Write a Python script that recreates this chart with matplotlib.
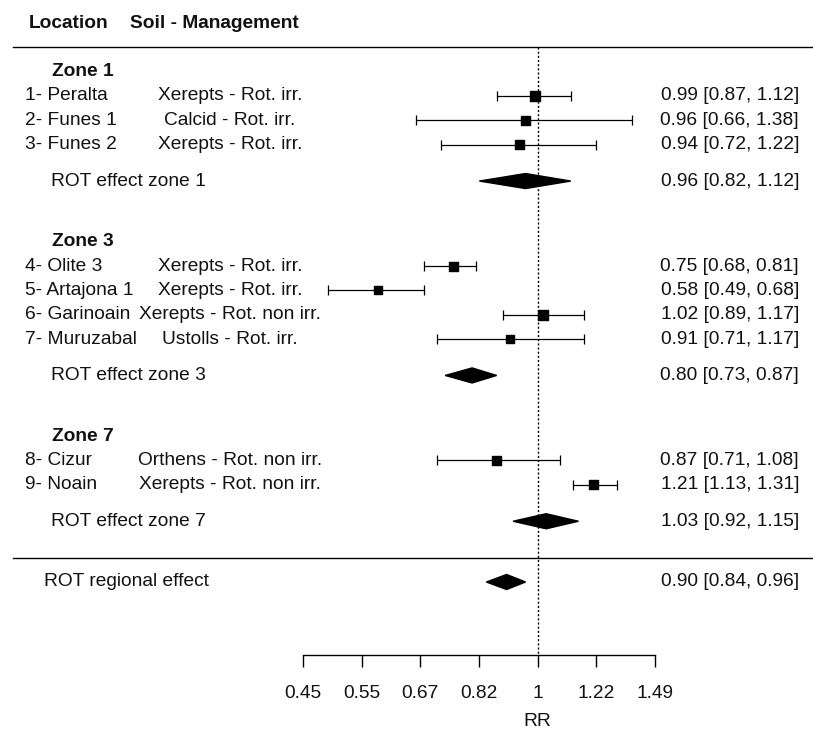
import numpy as np
import matplotlib.pyplot as plt
from matplotlib.patches import Polygon
from matplotlib.transforms import blended_transform_factory

plt.rcParams['font.family'] = ['Liberation Sans', 'DejaVu Sans']

# study data (RR with 95% CI)
locations = ["1- Peralta", "2- Funes 1", "3- Funes 2",
             "4- Olite 3", "5- Artajona 1", "6- Garinoain", "7- Muruzabal",
             "8- Cizur", "9- Noain"]
soils = ["Xerepts - Rot. irr.", "Calcid - Rot. irr.", "Xerepts - Rot. irr.",
         "Xerepts - Rot. irr.", "Xerepts - Rot. irr.", "Xerepts - Rot. non irr.",
         "Ustolls - Rot. irr.", "Orthens - Rot. non irr.", "Xerepts - Rot. non irr."]
rr = [0.99, 0.96, 0.94, 0.75, 0.58, 1.02, 0.91, 0.87, 1.21]
rr_lo = [0.87, 0.66, 0.72, 0.68, 0.49, 0.89, 0.71, 0.71, 1.13]
rr_hi = [1.12, 1.38, 1.22, 0.81, 0.68, 1.17, 1.17, 1.08, 1.31]
weights = [10, 9, 8.7, 9, 8, 10, 8.5, 9, 9]  # rough relative weights (box size)

zones = ["Zone 1", "Zone 3", "Zone 7"]
zone_n = [3, 4, 2]
zone_rr = [0.96, 0.80, 1.03]
zone_lo = [0.82, 0.73, 0.92]
zone_hi = [1.12, 0.87, 1.15]

overall_rr, overall_lo, overall_hi = 0.90, 0.84, 0.96

tick_log = [-0.8, -0.6, -0.4, -0.2, 0, 0.2, 0.4]

FS = 13.8
W, H = 813, 736

fig = plt.figure(figsize=(W / 100, H / 100), dpi=100)
ax = fig.add_axes([0, 0, 1, 1])
# x in log(RR), y in rows (row 0 = first study), pixel based limits
x0_px, x_scale = 537.5, 293.2
y0_px, y_scale = 96, 24.3
ax.set_xlim(-x0_px / x_scale, (W - x0_px) / x_scale)
ax.set_ylim((H - y0_px) / y_scale, -y0_px / y_scale)
tr = blended_transform_factory(ax.transAxes, ax.transData)

def fx(px):
    return px / W

# row layout
study_rows, zone_rows, summ_rows = [], [], []
r = 0.0
for n in zone_n:
    zone_rows.append(r - 1)
    study_rows += [r + j for j in range(n)]
    summ_rows.append(r + n - 1 + 1.5)
    r = r + n - 1 + 1.5 + 3.5
line_row = summ_rows[-1] + 1.5
overall_row = line_row + 1
axis_row = overall_row + 3

txt = dict(fontsize=FS, color='#111111', va='center', transform=tr)

# header
ax.text(fx(29), -3, "Location", fontweight='bold', ha='left', **txt)
ax.text(fx(130), -3, "Soil - Management", fontweight='bold', ha='left', **txt)
ax.plot([fx(13), 1], [-2, -2], color='black', lw=1, transform=tr)
ax.plot([fx(13), 1], [line_row, line_row], color='black', lw=1, transform=tr)

# reference line at RR = 1
ax.vlines(0, -2, axis_row, colors='black', linestyles=(0, (1.5, 1.5)), lw=1)

def fmt(e, l, h):
    return f"{e:.2f} [{l:.2f}, {h:.2f}]"

# studies
le = np.log(rr)
ax.errorbar(le, study_rows,
            xerr=[le - np.log(rr_lo), np.log(rr_hi) - le],
            fmt='none', ecolor='black', elinewidth=0.9, capsize=3.8, capthick=0.9)
ax.scatter(le, study_rows, marker='s', color='black',
           s=np.array(weights) ** 2 * 0.52, zorder=3)
for i, yr in enumerate(study_rows):
    ax.text(fx(25), yr, locations[i], ha='left', **txt)
    ax.text(fx(230), yr, soils[i], ha='center', **txt)
    ax.text(fx(799), yr, fmt(rr[i], rr_lo[i], rr_hi[i]), ha='right', **txt)

def diamond(e, l, h, yr, half=0.31):
    pts = [(np.log(l), yr), (np.log(e), yr - half), (np.log(h), yr), (np.log(e), yr + half)]
    ax.add_patch(Polygon(pts, closed=True, color='black', zorder=3))

for k, z in enumerate(zones):
    ax.text(fx(52), zone_rows[k], z, fontweight='bold', ha='left', **txt)
    ax.text(fx(51), summ_rows[k], f"ROT effect zone {z.split()[-1]}", ha='left', **txt)
    diamond(zone_rr[k], zone_lo[k], zone_hi[k], summ_rows[k])
    ax.text(fx(799), summ_rows[k], fmt(zone_rr[k], zone_lo[k], zone_hi[k]), ha='right', **txt)

ax.text(fx(44), overall_row, "ROT regional effect", ha='left', **txt)
diamond(overall_rr, overall_lo, overall_hi, overall_row)
ax.text(fx(799), overall_row, fmt(overall_rr, overall_lo, overall_hi), ha='right', **txt)

# bottom axis
for s in ['top', 'left', 'right']:
    ax.spines[s].set_visible(False)
ax.spines['bottom'].set_position(('data', axis_row))
ax.spines['bottom'].set_bounds(tick_log[0], tick_log[-1])
ax.spines['bottom'].set_linewidth(1)
ax.set_yticks([])
ax.set_xticks(tick_log)
ax.set_xticklabels([f"{np.exp(t):.2f}".rstrip('0').rstrip('.') for t in tick_log])
ax.tick_params(axis='x', direction='out', length=8.5, width=1, pad=13,
               labelsize=FS, labelcolor='#111111')
ax.set_xlabel("RR", fontsize=FS, color='#111111', labelpad=8)
ax.xaxis.label.set_x(fx(x0_px))
ax.patch.set_visible(False)

fig.savefig("out.png", dpi=100)
